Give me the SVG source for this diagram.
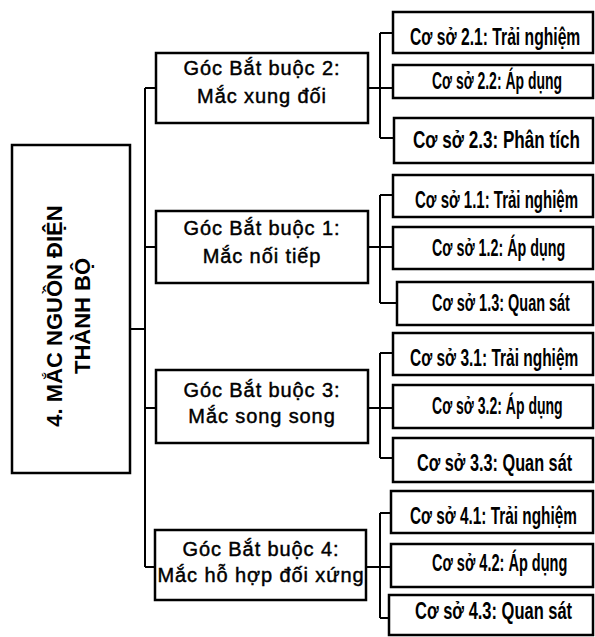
<svg xmlns="http://www.w3.org/2000/svg" width="595" height="637" viewBox="0 0 595 637">
<style>
.box{fill:#fff;stroke:#000;stroke-width:2.5}
.conn{fill:none;stroke:#000;stroke-width:2}
.main{font-family:"Liberation Sans",Arial,sans-serif;font-weight:bold;font-size:22px;fill:#000}
.mid{font-family:"Liberation Sans",Arial,sans-serif;font-size:20px;letter-spacing:0.9px;fill:#000;stroke:#000;stroke-width:0.45;text-anchor:middle}
.leaf{font-family:"Liberation Sans",Arial,sans-serif;font-weight:bold;font-size:24px;fill:#000}
</style>
<rect width="595" height="637" fill="#fff"/>
<g id="connectors">
<path class="conn" d="M130 329H145M145 88V567M145 88H156M145 247H156M145 408H156M145 567H155"/>
<path class="conn" d="M368 88H380M380 33V138M380 33H393M380 88H393M380 138H394"/>
<path class="conn" d="M368 247H380M380 195V303M380 195H393M380 247H393M380 303H397"/>
<path class="conn" d="M368 408H380M380 353V458M380 353H393M380 408H393M380 458H393"/>
<path class="conn" d="M366 567H380M380 513V618M380 513H391M380 567H391M380 618H389"/>
</g>
<g id="root">
<rect class="box" x="12" y="145" width="118" height="328"/>
<text class="main" text-anchor="middle" transform="translate(62,316) rotate(-90)">4. MẮC NGUỒN ĐIỆN</text>
<text class="main" text-anchor="middle" transform="translate(90,316) rotate(-90)">THÀNH BỘ</text>
</g>
<g id="goc2">
<rect class="box" x="156" y="53" width="212" height="70"/>
<text class="mid" x="262" y="75">Góc Bắt buộc 2:</text>
<text class="mid" x="262" y="103">Mắc xung đối</text>
</g>
<g id="goc1">
<rect class="box" x="156" y="211" width="212" height="72"/>
<text class="mid" x="262" y="235">Góc Bắt buộc 1:</text>
<text class="mid" x="262" y="263">Mắc nối tiếp</text>
</g>
<g id="goc3">
<rect class="box" x="156" y="370" width="212" height="73"/>
<text class="mid" x="262" y="397">Góc Bắt buộc 3:</text>
<text class="mid" x="262" y="423">Mắc song song</text>
</g>
<g id="goc4">
<rect class="box" x="155" y="530" width="211" height="70"/>
<text class="mid" x="261" y="556">Góc Bắt buộc 4:</text>
<text class="mid" x="261" y="582">Mắc hỗ hợp đối xứng</text>
</g>
<g id="cs21"><rect class="box" x="393" y="12" width="200" height="41"/><text class="leaf" transform="translate(410,45) scale(0.66,1)" textLength="258" lengthAdjust="spacingAndGlyphs">Cơ sở 2.1: Trải nghiệm</text></g>
<g id="cs22"><rect class="box" x="393" y="65" width="200" height="33"/><text class="leaf" transform="translate(432,89) scale(0.66,1)" textLength="197" lengthAdjust="spacingAndGlyphs">Cơ sở 2.2: Áp dụng</text></g>
<g id="cs23"><rect class="box" x="394" y="118" width="199" height="45"/><text class="leaf" transform="translate(413,148) scale(0.66,1)" textLength="253" lengthAdjust="spacingAndGlyphs">Cơ sở 2.3: Phân tích</text></g>
<g id="cs11"><rect class="box" x="393" y="175" width="200" height="42"/><text class="leaf" transform="translate(415,208) scale(0.66,1)" textLength="247" lengthAdjust="spacingAndGlyphs">Cơ sở 1.1: Trải nghiệm</text></g>
<g id="cs12"><rect class="box" x="393" y="227" width="200" height="42"/><text class="leaf" transform="translate(432,256) scale(0.66,1)" textLength="202" lengthAdjust="spacingAndGlyphs">Cơ sở 1.2: Áp dụng</text></g>
<g id="cs13"><rect class="box" x="397" y="282" width="196" height="43"/><text class="leaf" transform="translate(432,311) scale(0.66,1)" textLength="209" lengthAdjust="spacingAndGlyphs">Cơ sở 1.3: Quan sát</text></g>
<g id="cs31"><rect class="box" x="393" y="333" width="200" height="42"/><text class="leaf" transform="translate(410,366) scale(0.66,1)" textLength="255" lengthAdjust="spacingAndGlyphs">Cơ sở 3.1: Trải nghiệm</text></g>
<g id="cs32"><rect class="box" x="393" y="385" width="200" height="43"/><text class="leaf" transform="translate(432,414) scale(0.66,1)" textLength="198" lengthAdjust="spacingAndGlyphs">Cơ sở 3.2: Áp dụng</text></g>
<g id="cs33"><rect class="box" x="393" y="438" width="200" height="44"/><text class="leaf" transform="translate(417,471) scale(0.66,1)" textLength="235" lengthAdjust="spacingAndGlyphs">Cơ sở 3.3: Quan sát</text></g>
<g id="cs41"><rect class="box" x="391" y="491" width="202" height="42"/><text class="leaf" transform="translate(410,524) scale(0.66,1)" textLength="253" lengthAdjust="spacingAndGlyphs">Cơ sở 4.1: Trải nghiệm</text></g>
<g id="cs42"><rect class="box" x="391" y="544" width="202" height="43"/><text class="leaf" transform="translate(432,571) scale(0.66,1)" textLength="205" lengthAdjust="spacingAndGlyphs">Cơ sở 4.2: Áp dụng</text></g>
<g id="cs43"><rect class="box" x="389" y="595" width="204" height="40"/><text class="leaf" transform="translate(415,619) scale(0.66,1)" textLength="238" lengthAdjust="spacingAndGlyphs">Cơ sở 4.3: Quan sát</text></g>
</svg>
